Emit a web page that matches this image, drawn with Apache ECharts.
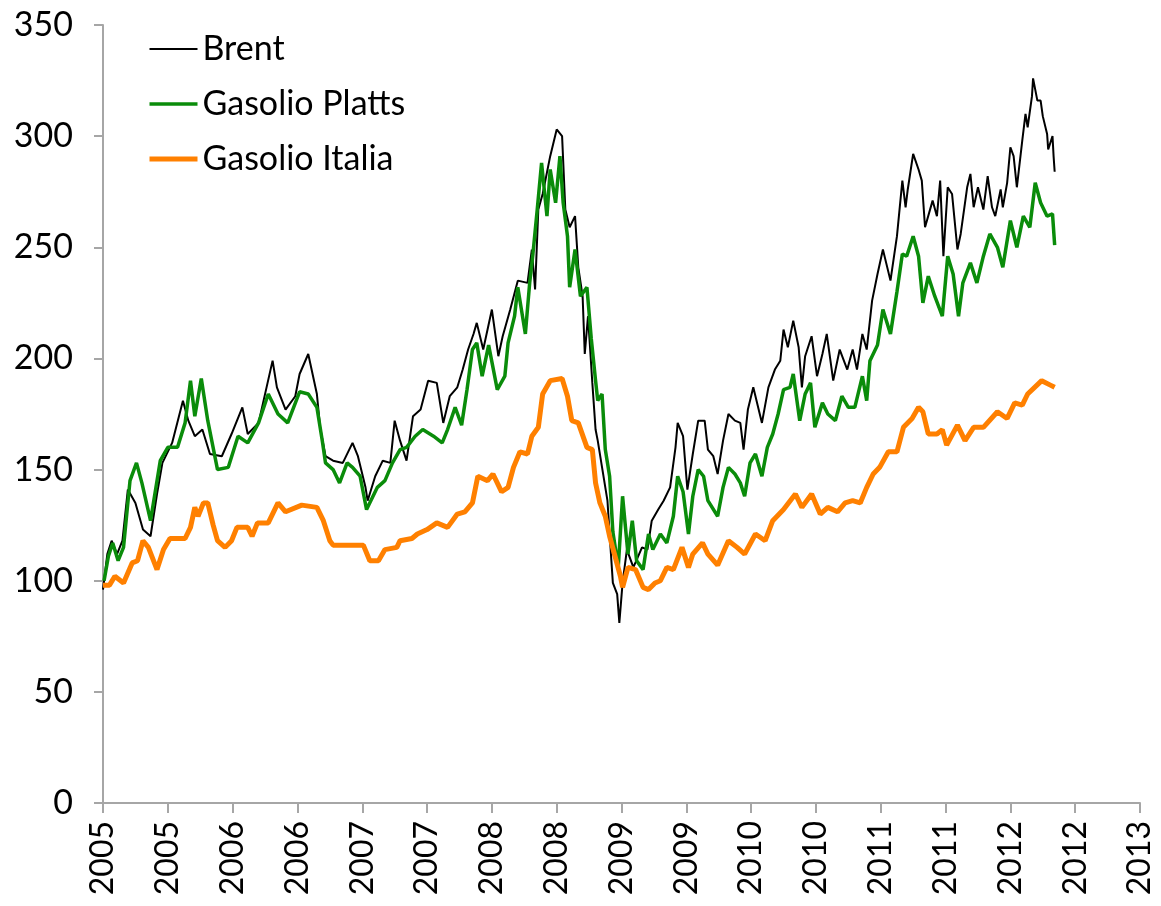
<!DOCTYPE html>
<html>
<head>
<meta charset="utf-8">
<title>Brent, Gasolio Platts, Gasolio Italia</title>
<script src="https://cdn.jsdelivr.net/npm/echarts@6/dist/echarts.min.js"></script>
<style>
  html, body { margin: 0; padding: 0; background: #fff; }
  #chart { width: 1161px; height: 906px; }
</style>
</head>
<body>
<div id="chart"></div>
<script>
// x = mesi da gennaio 2005, y = indice (base 100)
const tickLabels = ['2005', '2005', '2006', '2006', '2007', '2007', '2008', '2008', '2009',
  '2009', '2010', '2010', '2011', '2011', '2012', '2012', '2013']

const brent = [
  [0.0, 96], [0.4, 112], [0.8, 118], [1.3, 112], [1.8, 118], [2.3, 141], [3.0, 135], [3.7, 123],
  [4.4, 120], [5.0, 139], [5.5, 153], [6.4, 162], [7.4, 181], [7.9, 172], [8.5, 165], [9.2, 168],
  [9.9, 157], [11.0, 156], [11.9, 166], [12.9, 178], [13.4, 166], [14.4, 171], [15.7, 199], [16.1, 187],
  [16.9, 177], [17.8, 183], [18.2, 193], [19.0, 202], [19.8, 184], [20.1, 169], [20.6, 156], [21.3, 154],
  [22.2, 153], [23.1, 162], [23.6, 156], [24.3, 142], [24.5, 136], [25.2, 147], [25.9, 154], [26.6, 153],
  [27.0, 172], [27.5, 163], [28.1, 154], [28.7, 174], [29.4, 177], [30.1, 190], [30.9, 189], [31.5, 171],
  [32.1, 183], [32.8, 187], [33.3, 195], [33.8, 204], [34.3, 211], [34.6, 216], [35.2, 204], [36.0, 222],
  [36.6, 201], [37.0, 210], [37.7, 222], [38.4, 235], [39.3, 234], [39.7, 249], [40.0, 231], [40.3, 267],
  [40.7, 274], [41.4, 291], [42.0, 303], [42.5, 300], [42.8, 267], [43.2, 259], [43.7, 264], [44.0, 241],
  [44.4, 228], [44.6, 202], [44.9, 219], [45.3, 189], [45.6, 168], [45.8, 163], [46.2, 151], [46.7, 136],
  [46.9, 121], [47.2, 99], [47.6, 94], [47.8, 81], [48.1, 99], [48.5, 114], [49.1, 106], [49.9, 115],
  [50.4, 114], [50.8, 127], [51.4, 132], [51.9, 136], [52.5, 142], [53.0, 160], [53.2, 171], [53.7, 165],
  [54.1, 141], [54.6, 157], [55.1, 172], [55.7, 172], [56.0, 159], [56.5, 156], [56.9, 148], [57.4, 163],
  [57.9, 175], [58.5, 172], [59.0, 171], [59.3, 159], [59.7, 177], [60.2, 187], [61.0, 171], [61.6, 187],
  [62.2, 195], [62.7, 199], [63.0, 213], [63.4, 205], [63.9, 217], [64.4, 205], [64.7, 187], [65.0, 201],
  [65.6, 210], [66.1, 192], [66.6, 202], [67.0, 211], [67.6, 190], [68.2, 204], [68.9, 195], [69.4, 204],
  [69.8, 195], [70.3, 211], [70.7, 204], [71.2, 226], [71.7, 238], [72.2, 249], [72.9, 235], [73.5, 255],
  [74.0, 280], [74.3, 268], [74.5, 276], [75.0, 292], [75.5, 285], [75.8, 280], [76.1, 259], [76.8, 271],
  [77.2, 264], [77.5, 280], [77.8, 246], [78.2, 277], [78.6, 274], [79.1, 249], [79.4, 256], [80.0, 277],
  [80.3, 283], [80.6, 268], [81.0, 277], [81.5, 267], [81.9, 282], [82.3, 268], [82.6, 264], [83.1, 276],
  [83.3, 268], [83.7, 279], [84.0, 295], [84.3, 291], [84.6, 277], [85.1, 298], [85.4, 310], [85.6, 304],
  [86.0, 318], [86.1, 326], [86.5, 316], [86.8, 316], [87.0, 309], [87.4, 301], [87.5, 294], [87.9, 300],
  [88.0, 291], [88.1, 284]
]

const gasolioPlatts = [
  [0.1, 100], [0.5, 111], [0.9, 117], [1.4, 109], [1.9, 115], [2.5, 145], [3.1, 153], [3.6, 144],
  [4.4, 127], [5.3, 154], [6.0, 160], [6.9, 160], [7.6, 171], [8.1, 190], [8.5, 174], [9.1, 191],
  [9.7, 172], [10.6, 150], [11.6, 151], [12.5, 165], [13.4, 162], [14.4, 171], [15.3, 184], [16.2, 175],
  [17.1, 171], [18.2, 185], [19.0, 184], [19.8, 178], [20.3, 163], [20.6, 153], [21.3, 150], [21.9, 144],
  [22.6, 153], [23.1, 151], [23.8, 147], [24.4, 132], [25.4, 142], [26.1, 145], [26.8, 153], [27.5, 159],
  [28.1, 160], [28.9, 165], [29.6, 168], [30.6, 165], [31.4, 162], [31.9, 168], [32.6, 178], [33.2, 170],
  [33.7, 186], [34.2, 204], [34.6, 207], [35.1, 192], [35.7, 206], [36.5, 186], [37.2, 192], [37.5, 207],
  [38.1, 219], [38.4, 232], [39.1, 211], [39.5, 234], [39.8, 247], [40.2, 267], [40.6, 288], [41.1, 264],
  [41.4, 285], [41.9, 270], [42.3, 291], [42.6, 270], [43.0, 255], [43.2, 232], [43.7, 249], [44.2, 228],
  [44.8, 232], [45.2, 209], [45.6, 190], [45.8, 181], [46.2, 184], [46.5, 159], [46.9, 147], [47.2, 122],
  [47.7, 106], [48.1, 138], [48.6, 112], [49.0, 127], [49.4, 109], [50.0, 105], [50.5, 121], [50.9, 114],
  [51.6, 121], [52.2, 117], [52.8, 129], [53.2, 147], [53.7, 140], [54.2, 121], [54.6, 138], [55.1, 150],
  [55.6, 147], [56.0, 136], [56.9, 129], [57.4, 142], [57.9, 151], [58.5, 148], [59.0, 144], [59.4, 138],
  [59.9, 153], [60.4, 157], [61.0, 147], [61.5, 160], [62.0, 166], [62.5, 175], [63.0, 186], [63.6, 187],
  [63.9, 193], [64.5, 172], [65.0, 184], [65.5, 189], [65.9, 169], [66.6, 180], [67.1, 175], [67.8, 172],
  [68.4, 183], [69.0, 178], [69.6, 178], [70.3, 192], [70.7, 181], [71.0, 199], [71.7, 206], [72.2, 222],
  [72.9, 211], [73.5, 230], [74.0, 247], [74.4, 246], [75.0, 255], [75.5, 246], [75.9, 225], [76.4, 237],
  [77.0, 228], [77.7, 219], [78.2, 246], [78.7, 238], [79.2, 219], [79.6, 234], [80.3, 243], [80.9, 234],
  [81.5, 246], [82.1, 256], [82.8, 250], [83.3, 241], [84.0, 262], [84.6, 250], [85.2, 264], [85.8, 259],
  [86.3, 279], [86.8, 270], [87.4, 264], [87.9, 265], [88.1, 251]
]

const gasolioItalia = [
  [0.0, 98], [0.6, 98], [1.1, 102], [1.9, 99], [2.7, 108], [3.2, 109], [3.7, 118], [4.2, 115],
  [5.0, 105], [5.6, 114], [6.2, 119], [7.6, 119], [8.1, 124], [8.5, 133], [8.8, 129], [9.3, 135],
  [9.7, 135], [10.2, 125], [10.6, 118], [11.3, 115], [11.9, 118], [12.4, 124], [13.4, 124], [13.8, 120],
  [14.3, 126], [15.3, 126], [16.2, 135], [16.9, 131], [18.4, 134], [19.8, 133], [20.4, 127], [21.0, 118],
  [21.3, 116], [24.1, 116], [24.7, 109], [25.5, 109], [26.1, 114], [27.2, 115], [27.5, 118], [28.6, 119],
  [29.1, 121], [30.0, 123], [30.9, 126], [31.9, 124], [32.8, 130], [33.5, 131], [34.2, 135], [34.7, 147],
  [35.6, 145], [36.1, 148], [36.9, 140], [37.5, 142], [38.0, 151], [38.6, 158], [39.3, 157], [39.7, 165],
  [40.3, 169], [40.7, 184], [41.4, 190], [42.5, 191], [43.0, 183], [43.4, 172], [44.0, 171], [44.8, 160],
  [45.3, 159], [45.6, 144], [46.0, 135], [46.5, 129], [46.9, 120], [47.4, 111], [47.9, 102], [48.1, 97],
  [48.6, 106], [49.3, 105], [50.0, 97], [50.5, 96], [51.1, 99], [51.6, 100], [52.2, 106], [52.8, 105],
  [53.6, 115], [54.2, 106], [54.6, 112], [55.5, 117], [56.0, 112], [56.9, 107], [57.9, 118], [58.7, 115],
  [59.4, 112], [60.4, 121], [61.3, 118], [62.0, 127], [63.0, 132], [64.1, 139], [64.7, 133], [65.6, 139],
  [66.4, 130], [67.1, 133], [68.0, 131], [68.7, 135], [69.4, 136], [70.1, 135], [70.7, 142], [71.3, 148],
  [71.9, 151], [72.7, 158], [73.5, 158], [74.1, 169], [74.9, 173], [75.5, 178], [75.9, 176], [76.4, 166],
  [77.2, 166], [77.7, 168], [78.1, 161], [79.1, 170], [79.8, 163], [80.6, 169], [81.5, 169], [82.8, 176],
  [83.7, 173], [84.4, 180], [85.1, 179], [85.6, 184], [86.9, 190], [87.7, 188], [88.1, 187]
]

const fontFamily = 'Lato, "Open Sans", sans-serif'
const axisGrey = '#a6a6a6'
const colBrent = '#000'
const colPlatts = '#0a8c0a'
const colItalia = '#ff8000'

const chart = echarts.init(document.getElementById('chart'))

const option = {
  animation: false,
  backgroundColor: '#fff',
  textStyle: { fontFamily: fontFamily },
  grid: {
    left: 103,
    right: 21,
    top: 25,
    bottom: 103,
    containLabel: false
  },
  legend: {
    orient: 'vertical',
    left: 142,
    top: 27,
    itemWidth: 48,
    itemHeight: 14,
    itemGap: 21,
    // solo la linea, senza il pallino in mezzo
    itemStyle: { opacity: 0 },
    textStyle: { fontSize: 34, color: '#000', fontFamily: fontFamily },
    data: [
      { name: 'Brent', lineStyle: { color: colBrent, width: 2 } },
      { name: 'Gasolio Platts', lineStyle: { color: colPlatts, width: 3.5 } },
      { name: 'Gasolio Italia', lineStyle: { color: colItalia, width: 5 } }
    ]
  },
  xAxis: {
    type: 'value',
    min: 0,
    max: 96,
    interval: 6,
    axisLine: { show: true, onZero: false, lineStyle: { color: axisGrey, width: 2 } },
    axisTick: { show: true, length: 10, lineStyle: { color: axisGrey, width: 2 } },
    splitLine: { show: false },
    axisLabel: {
      rotate: 90,
      margin: 18,
      fontSize: 32,
      color: '#000',
      formatter: (value) => tickLabels[Math.round(value / 6)]
    }
  },
  yAxis: {
    type: 'value',
    min: 0,
    max: 350,
    interval: 50,
    axisLine: { show: true, lineStyle: { color: axisGrey, width: 2 } },
    axisTick: { show: true, length: 9, lineStyle: { color: axisGrey, width: 2 } },
    splitLine: { show: false },
    axisLabel: { margin: 30, fontSize: 34, color: '#000' }
  },
  series: [
    {
      name: 'Brent',
      type: 'line',
      data: brent,
      symbol: 'none',
      z: 3,
      lineStyle: { color: colBrent, width: 2 },
      itemStyle: { color: colBrent }
    },
    {
      name: 'Gasolio Platts',
      type: 'line',
      data: gasolioPlatts,
      symbol: 'none',
      z: 4,
      lineStyle: { color: colPlatts, width: 3.5 },
      itemStyle: { color: colPlatts }
    },
    {
      name: 'Gasolio Italia',
      type: 'line',
      data: gasolioItalia,
      symbol: 'none',
      z: 5,
      lineStyle: { color: colItalia, width: 5 },
      itemStyle: { color: colItalia }
    }
  ]
}

chart.setOption(option)
</script>
</body>
</html>
